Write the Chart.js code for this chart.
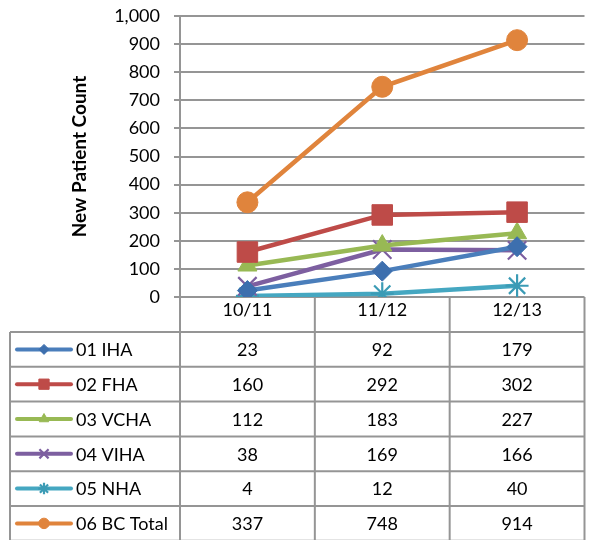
<!DOCTYPE html>
<html>
<head>
<meta charset="utf-8">
<script src="https://cdn.jsdelivr.net/npm/chart.js@4.4.1/dist/chart.umd.min.js"></script>
<style>
html, body { margin: 0; padding: 0; background: #fff; overflow: hidden; }
#wrap { width: 600px; height: 540px; }
</style>
</head>
<body>
<div id="wrap"><canvas id="chart" width="600" height="540"></canvas></div>
<script>
// values
const years = ['10/11', '11/12', '12/13'];
const seriesNames = ['01 IHA', '02 FHA', '03 VCHA', '04 VIHA', '05 NHA', '06 BC Total'];
const iha = [23, 92, 179];
const fha = [160, 292, 302];
const vcha = [112, 183, 227];
const viha = [38, 169, 166];
const nha = [4, 12, 40];
const bcTotal = [337, 748, 914];
const yMin = 0, yMax = 1000, yStep = 100;

const FONT = 'Lato, "Open Sans", sans-serif';
const GRID = '#959595';

function series(i, data, line, marker, style, radius, bw) {
    return {
        label: seriesNames[i],
        data: data,
        borderColor: line,
        backgroundColor: line,
        borderWidth: 4.5,
        pointStyle: style,
        pointRadius: radius,
        pointBackgroundColor: marker,
        pointBorderColor: marker,
        pointBorderWidth: bw,
        tension: 0
    };
}

const datasets = [
    series(0, iha, '#4A7EBB', '#3D6FAE', 'rectRot', 10, 1),
    series(1, fha, '#BE4B48', '#BE4B48', 'rect', 14.5, 1),
    series(2, vcha, '#98B954', '#98B954', 'triangle', 11, 1),
    series(3, viha, '#7D5FA0', '#7D5FA0', 'crossRot', 13, 2.2),
    series(4, nha, '#45A7C1', '#3B9BB5', 'star', 11.5, 2.2),
    series(5, bcTotal, '#E0843C', '#E0843C', 'circle', 10.5, 1)
];

// data table under the plot, lined up with the category axis
const tablePlugin = {
    id: 'dataTable',
    afterDraw(chart) {
        const ctx = chart.ctx;
        const area = chart.chartArea;
        const xs = chart.scales.x;
        const tableTop = 332;
        const rowH = 34.8;
        const tableLeft = 10;
        const bottom = chart.height;
        const step = (area.right - area.left) / years.length;

        ctx.save();
        ctx.strokeStyle = GRID;
        ctx.lineWidth = 2;

        // column dividers
        for (let j = 0; j <= years.length; j++) {
            const x = area.left + j * step;
            ctx.beginPath();
            ctx.moveTo(x, area.bottom);
            ctx.lineTo(x, bottom);
            ctx.stroke();
        }
        ctx.beginPath();
        ctx.moveTo(tableLeft, tableTop);
        ctx.lineTo(tableLeft, bottom);
        ctx.stroke();

        // row lines
        for (let i = 0; i <= datasets.length; i++) {
            const y = tableTop + i * rowH;
            ctx.beginPath();
            ctx.moveTo(tableLeft, y);
            ctx.lineTo(area.right, y);
            ctx.stroke();
        }

        ctx.font = '18px ' + FONT;
        ctx.textBaseline = 'middle';
        ctx.fillStyle = '#000';

        datasets.forEach((ds, i) => {
            const cy = tableTop + rowH * (i + 0.5);

            // legend key
            ctx.strokeStyle = ds.borderColor;
            ctx.lineWidth = 4;
            ctx.lineCap = 'round';
            ctx.beginPath();
            ctx.moveTo(17, cy);
            ctx.lineTo(71, cy);
            ctx.stroke();
            ctx.lineCap = 'butt';
            ctx.fillStyle = ds.pointBackgroundColor;
            ctx.strokeStyle = ds.pointBorderColor;
            ctx.lineWidth = ds.pointBorderWidth;
            Chart.helpers.drawPoint(ctx, {
                pointStyle: ds.pointStyle,
                rotation: 0,
                radius: ds.pointRadius * 0.5,
                borderWidth: ds.pointBorderWidth
            }, 44, cy);

            ctx.fillStyle = '#000';
            ctx.textAlign = 'left';
            ctx.fillText(ds.label, 76, cy + 1);

            ctx.textAlign = 'center';
            ds.data.forEach((v, j) => {
                ctx.fillText(String(v), xs.getPixelForValue(j), cy + 1);
            });
        });
        ctx.restore();
    }
};

new Chart(document.getElementById('chart'), {
    type: 'line',
    data: { labels: years, datasets: datasets },
    plugins: [tablePlugin],
    options: {
        responsive: false,
        animation: false,
        layout: { padding: { top: 16, right: 3, left: 0, bottom: 0 } },
        plugins: {
            legend: { display: false },
            tooltip: { enabled: false }
        },
        scales: {
            x: {
                offset: true,
                grid: { display: false, drawTicks: false },
                border: { display: false },
                ticks: { font: { family: FONT, size: 18 }, color: '#000', padding: 2 },
                afterFit(scale) { scale.height = 243; }
            },
            y: {
                min: yMin,
                max: yMax,
                ticks: {
                    stepSize: yStep,
                    font: { family: FONT, size: 18 },
                    color: '#000',
                    padding: 14
                },
                grid: { color: GRID, lineWidth: 2, tickLength: 6 },
                border: { color: GRID, width: 2 },
                title: {
                    display: true,
                    text: 'New Patient Count',
                    font: { family: FONT, size: 19, weight: 'bold' },
                    color: '#000',
                    padding: { top: 68, bottom: 0 }
                },
                afterFit(scale) {
                    scale.width = 180;
                    scale.paddingTop = 10;
                    scale.paddingBottom = 10;
                }
            }
        }
    }
});
</script>
</body>
</html>
